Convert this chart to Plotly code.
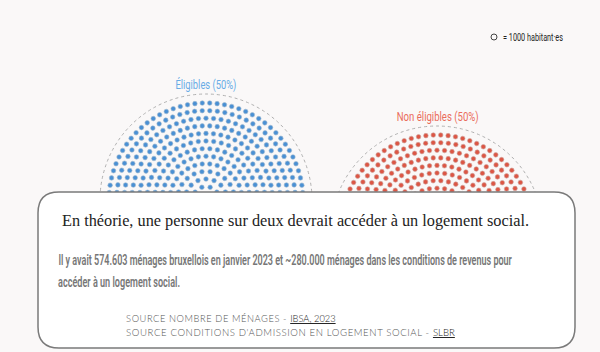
import math
import json
import plotly.graph_objects as go

# ---- data ----
groups = ["Éligibles", "Non éligibles"]
dots = [287, 287]                 # 1 dot = 1000 habitant·es
shares = [50, 50]
colors = ["#4a90d4", "#dc5645"]
outline_colors = ["#9fb8cf", "#cfa49e"]
label_colors = ["#68ace6", "#ea6c5b"]
title = "En théorie, une personne sur deux devrait accéder à un logement social."
para = ["Il y avait 574.603 ménages bruxellois en janvier 2023 et ~280.000 ménages dans les conditions de revenus pour",
        "accéder à un logement social."]
sources = [("SOURCE NOMBRE DE MÉNAGES - ", "IBSA, 2023"),
           ("SOURCE CONDITIONS D'ADMISSION EN LOGEMENT SOCIAL - ", "SLBR")]
legend_text = "= 1000 habitant·es"

centers = [(206, 200), (437, 232)]
R_dash = 106
R_dot = 97
step = 7.6

COND = "Roboto, Noto Sans, sans-serif"

def parliament(n, cx, cy, R, s):
    radii = []
    r = R
    cap = 0
    while cap < n and r > s * 0.5:
        radii.append(r)
        cap += int(math.pi * r / s) + 1
        r -= s
    tot = sum(radii)
    counts = [max(2, round(n * rr / tot)) for rr in radii]
    diff = n - sum(counts)
    i = 0
    while diff != 0:
        counts[i % len(counts)] += 1 if diff > 0 else -1
        diff += -1 if diff > 0 else 1
        i += 1
    xs, ys = [], []
    for rr, m in zip(radii, counts):
        for j in range(m):
            th = math.pi * (1 - j / (m - 1))
            xs.append(cx + rr * math.cos(th))
            ys.append(cy - rr * math.sin(th))
    return xs, ys

fig = go.Figure()
shapes = []
annotations = []
for g, n, sh, col, oc, lc, (cx, cy) in zip(groups, dots, shares, colors, outline_colors, label_colors, centers):
    xs, ys = parliament(n, cx, cy, R_dot, step)
    fig.add_trace(go.Scatter(x=xs, y=ys, mode="markers", hoverinfo="skip",
                             marker=dict(size=4.6, color=col, line=dict(width=0.6, color=oc))))
    shapes.append(dict(type="circle", xref="x", yref="y", x0=cx - R_dash, x1=cx + R_dash,
                       y0=cy - R_dash, y1=cy + R_dash, line=dict(color="#b0b0b0", width=1, dash="dot"),
                       layer="below"))
    annotations.append(dict(x=cx, y=cy - R_dash - 10, xref="x", yref="y", text=f"{g} ({sh}%)",
                            showarrow=False, xanchor="center", yanchor="middle",
                            font=dict(family=COND, size=13.5, color=lc)))

# text box
x0, x1, y0, y1, rr = 38, 575, 192, 348, 21
path = (f"M {x0+rr},{y0} L {x1-rr},{y0} Q {x1},{y0} {x1},{y0+rr} L {x1},{y1-rr} Q {x1},{y1} {x1-rr},{y1} "
        f"L {x0+rr},{y1} Q {x0},{y1} {x0},{y1-rr} L {x0},{y0+rr} Q {x0},{y0} {x0+rr},{y0} Z")
shapes.append(dict(type="path", path=path, xref="x", yref="y", fillcolor="#ffffff",
                   line=dict(color="#7a7a7a", width=1.5), layer="above"))

# legend
shapes.append(dict(type="circle", xref="x", yref="y", x0=491, x1=497, y0=34, y1=40,
                   line=dict(color="#444", width=1), fillcolor="rgba(0,0,0,0)", layer="above"))
annotations.append(dict(x=501, y=37, xref="x", yref="y", text=legend_text, showarrow=False,
                        xanchor="left", yanchor="middle",
                        font=dict(family=COND, size=10.5, color="#222")))

annotations.append(dict(x=60, y=220, xref="x", yref="y", text=title, showarrow=False,
                        xanchor="left", yanchor="middle",
                        font=dict(family="Liberation Serif, DejaVu Serif, serif", size=16.3, color="#222")))
for i, line in enumerate(para):
    annotations.append(dict(x=56, y=260 + 22 * i, xref="x", yref="y", text=line, showarrow=False,
                            xanchor="left", yanchor="middle",
                            font=dict(family=COND, size=14, color="#777777", weight=600)))
for i, (a, b) in enumerate(sources):
    annotations.append(dict(x=124, y=318 + 14 * i, xref="x", yref="y",
                            text=f"<span style='letter-spacing:0.6px'>{a}</span><span style='text-decoration:underline;fill:#222'>{b}</span>",
                            showarrow=False, xanchor="left", yanchor="middle",
                            font=dict(family="Lato, Open Sans, sans-serif", size=9.8, color="#555", weight=300)))

fig.update_layout(width=600, height=352, autosize=False, margin=dict(l=0, r=0, t=0, b=0),
                  paper_bgcolor="#faf8f8", plot_bgcolor="#faf8f8", showlegend=False,
                  xaxis=dict(range=[0, 600], visible=False, fixedrange=True),
                  yaxis=dict(range=[352, 0], visible=False, fixedrange=True),
                  shapes=shapes, annotations=annotations)

# condensed look: horizontally squash some texts to the reference widths
targets = [
    [para[0][:10], 454, "left"],
    [para[1], 122, "left"],
    [legend_text, 60, "left"],
    [f"{groups[0]} (", 61, "center"],
    [f"{groups[1]} (", 82, "center"],
    ["SOURCE CONDITIONS", 329, "left"],
    ["SOURCE NOMBRE", 210, "left"],
]
js = """
var gd = document.getElementById('{plot_id}');
var targets = %s;
function squash(){
  gd.querySelectorAll('text.annotation-text').forEach(function(t){
    var s = t.textContent;
    targets.forEach(function(tg){
      if (s.indexOf(tg[0]) === 0) {
        t.style.transform = '';
        var bw = t.getBBox().width;
        if (bw > 0) {
          t.style.transformBox = 'fill-box';
          t.style.transformOrigin = tg[2] + ' center';
          t.style.transform = 'scaleX(' + (tg[1] / bw) + ')';
        }
      }
    });
  });
}
squash();
if (gd.on) { gd.on('plotly_afterplot', squash); }
if (document.fonts && document.fonts.ready) { document.fonts.ready.then(squash); }
setTimeout(squash, 50);
setTimeout(squash, 300);
""" % json.dumps(targets)
fig.write_html("out.html", config={"displayModeBar": False}, post_script=js)
